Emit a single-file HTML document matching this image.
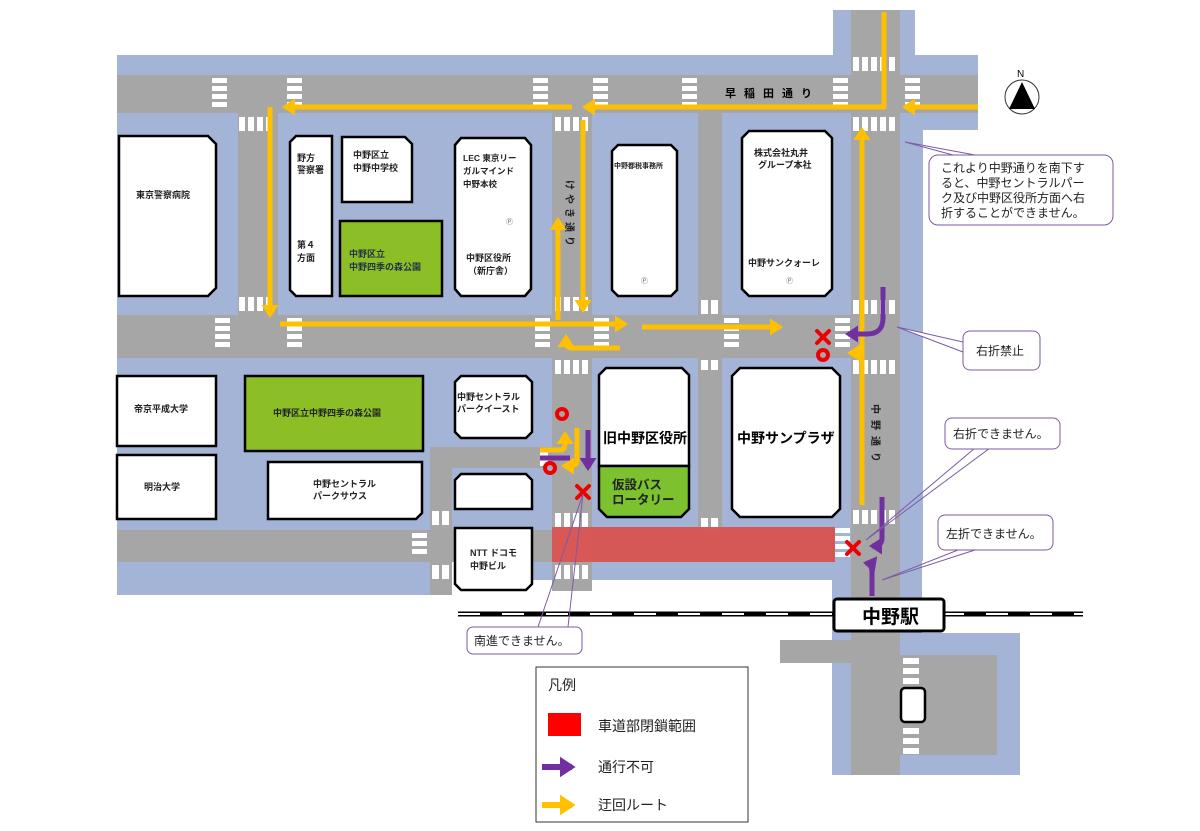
<!DOCTYPE html>
<html><head><meta charset="utf-8"><style>
html,body{margin:0;padding:0;background:#fff;}
svg{display:block;font-family:"Liberation Sans","Noto Sans CJK JP",sans-serif;}
</style></head><body>
<svg width="1200" height="831" viewBox="0 0 1200 831" xmlns="http://www.w3.org/2000/svg">
<defs>
<marker id="ay" markerWidth="4" markerHeight="4" refX="2" refY="2" orient="auto" markerUnits="strokeWidth"><path d="M0,0.3 L2.6,2 L0,3.7 Z" fill="#ffc000"/></marker>
<marker id="ap" markerWidth="4" markerHeight="4" refX="2" refY="2" orient="auto" markerUnits="strokeWidth"><path d="M0,0.3 L2.6,2 L0,3.7 Z" fill="#7030a0"/></marker>
</defs>
<!-- sidewalks (blue) -->
<g fill="#a4b4d6">
<rect x="117" y="55" width="861" height="75"/>
<rect x="833" y="10" width="82" height="60"/>
<rect x="117" y="113" width="806" height="448"/>
<rect x="117" y="530" width="313" height="65"/>
<rect x="455" y="540" width="397" height="40"/>
<rect x="832" y="560" width="90" height="80"/>
<rect x="832" y="633" width="188" height="142"/>
</g>
<!-- roads -->
<g fill="#a6a6a6">
<rect x="117" y="75" width="861" height="38"/>
<rect x="851" y="10" width="49" height="765"/>
<rect x="238" y="113" width="40" height="244"/>
<rect x="552" y="113" width="40" height="478"/>
<rect x="698" y="113" width="24" height="420"/>
<rect x="117" y="315" width="783" height="43"/>
<rect x="117" y="530" width="435" height="32"/>
<rect x="430" y="447" width="122" height="21"/>
<rect x="430" y="447" width="22" height="148"/>
<rect x="780" y="640" width="71" height="23"/>
<rect x="900" y="655" width="97" height="100"/>
</g>
<!-- crosswalks -->
<g fill="#fff">
<rect x="212" y="78" width="15" height="5"/><rect x="212" y="86" width="15" height="5"/><rect x="212" y="94" width="15" height="5"/><rect x="212" y="102" width="15" height="5"/>
<rect x="287" y="78" width="15" height="5"/><rect x="287" y="86" width="15" height="5"/><rect x="287" y="94" width="15" height="5"/><rect x="287" y="102" width="15" height="5"/>
<rect x="533" y="78" width="15" height="5"/><rect x="533" y="86" width="15" height="5"/><rect x="533" y="94" width="15" height="5"/><rect x="533" y="102" width="15" height="5"/>
<rect x="593" y="78" width="15" height="5"/><rect x="593" y="86" width="15" height="5"/><rect x="593" y="94" width="15" height="5"/><rect x="593" y="102" width="15" height="5"/>
<rect x="682" y="78" width="15" height="5"/><rect x="682" y="86" width="15" height="5"/><rect x="682" y="94" width="15" height="5"/><rect x="682" y="102" width="15" height="5"/>
<rect x="833" y="78" width="15" height="5"/><rect x="833" y="86" width="15" height="5"/><rect x="833" y="94" width="15" height="5"/><rect x="833" y="102" width="15" height="5"/>
<rect x="905" y="78" width="15" height="5"/><rect x="905" y="86" width="15" height="5"/><rect x="905" y="94" width="15" height="5"/><rect x="905" y="102" width="15" height="5"/>
<rect x="853" y="57" width="6" height="14"/><rect x="862" y="57" width="6" height="14"/><rect x="871" y="57" width="6" height="14"/><rect x="880" y="57" width="6" height="14"/><rect x="889" y="57" width="6" height="14"/>
<rect x="853" y="117" width="6" height="14"/><rect x="862" y="117" width="6" height="14"/><rect x="871" y="117" width="6" height="14"/><rect x="880" y="117" width="6" height="14"/><rect x="889" y="117" width="6" height="14"/>
<rect x="239" y="117" width="6" height="14"/><rect x="248" y="117" width="6" height="14"/><rect x="257" y="117" width="6" height="14"/><rect x="266" y="117" width="6" height="14"/>
<rect x="555" y="117" width="6" height="14"/><rect x="564" y="117" width="6" height="14"/><rect x="573" y="117" width="6" height="14"/><rect x="582" y="117" width="6" height="14"/>
<rect x="239" y="297" width="6" height="14"/><rect x="248" y="297" width="6" height="14"/><rect x="257" y="297" width="6" height="14"/><rect x="266" y="297" width="6" height="14"/>
<rect x="555" y="297" width="6" height="14"/><rect x="564" y="297" width="6" height="14"/><rect x="573" y="297" width="6" height="14"/><rect x="582" y="297" width="6" height="14"/>
<rect x="701" y="300" width="7" height="14"/><rect x="711" y="300" width="7" height="14"/>
<rect x="853" y="300" width="6" height="14"/><rect x="862" y="300" width="6" height="14"/><rect x="871" y="300" width="6" height="14"/><rect x="880" y="300" width="6" height="14"/><rect x="889" y="300" width="6" height="14"/>
<rect x="215" y="318" width="15" height="5"/><rect x="215" y="326" width="15" height="5"/><rect x="215" y="334" width="15" height="5"/><rect x="215" y="342" width="15" height="5"/>
<rect x="287" y="318" width="15" height="5"/><rect x="287" y="326" width="15" height="5"/><rect x="287" y="334" width="15" height="5"/><rect x="287" y="342" width="15" height="5"/>
<rect x="535" y="318" width="15" height="5"/><rect x="535" y="326" width="15" height="5"/><rect x="535" y="334" width="15" height="5"/><rect x="535" y="342" width="15" height="5"/>
<rect x="594" y="318" width="15" height="5"/><rect x="594" y="326" width="15" height="5"/><rect x="594" y="334" width="15" height="5"/><rect x="594" y="342" width="15" height="5"/>
<rect x="724" y="318" width="15" height="5"/><rect x="724" y="326" width="15" height="5"/><rect x="724" y="334" width="15" height="5"/><rect x="724" y="342" width="15" height="5"/>
<rect x="835" y="318" width="15" height="5"/><rect x="835" y="326" width="15" height="5"/><rect x="835" y="334" width="15" height="5"/><rect x="835" y="342" width="15" height="5"/>
<rect x="555" y="360" width="6" height="14"/><rect x="564" y="360" width="6" height="14"/><rect x="573" y="360" width="6" height="14"/><rect x="582" y="360" width="6" height="14"/>
<rect x="701" y="360" width="7" height="10"/><rect x="711" y="360" width="7" height="10"/>
<rect x="853" y="360" width="6" height="14"/><rect x="862" y="360" width="6" height="14"/><rect x="871" y="360" width="6" height="14"/><rect x="880" y="360" width="6" height="14"/><rect x="889" y="360" width="6" height="14"/>
<rect x="555" y="513" width="6" height="14"/><rect x="564" y="513" width="6" height="14"/><rect x="573" y="513" width="6" height="14"/><rect x="582" y="513" width="6" height="14"/>
<rect x="701" y="518" width="7" height="10"/><rect x="711" y="518" width="7" height="10"/>
<rect x="853" y="510" width="6" height="14"/><rect x="862" y="510" width="6" height="14"/><rect x="871" y="510" width="6" height="14"/><rect x="880" y="510" width="6" height="14"/><rect x="889" y="510" width="6" height="14"/>
<rect x="555" y="565" width="6" height="14"/><rect x="564" y="565" width="6" height="14"/><rect x="573" y="565" width="6" height="14"/><rect x="582" y="565" width="6" height="14"/>
<rect x="432" y="511" width="7" height="14"/><rect x="442" y="511" width="7" height="14"/>
<rect x="432" y="565" width="7" height="14"/><rect x="442" y="565" width="7" height="14"/>
<rect x="412" y="533" width="15" height="5"/><rect x="412" y="541" width="15" height="5"/><rect x="412" y="549" width="15" height="5"/>
<rect x="835" y="528" width="15" height="5"/><rect x="835" y="536" width="15" height="5"/><rect x="835" y="544" width="15" height="5"/><rect x="835" y="552" width="15" height="5"/>
<rect x="903" y="658" width="16" height="6"/><rect x="903" y="668" width="16" height="6"/><rect x="903" y="678" width="16" height="6"/>
<rect x="903" y="728" width="16" height="6"/><rect x="903" y="738" width="16" height="6"/><rect x="903" y="748" width="16" height="6"/>
<rect x="540" y="449" width="8" height="17"/>
</g>
<!-- closed zone -->
<rect x="552" y="527" width="283" height="35" fill="#d9534f" opacity="0.95"/>
<!-- buildings -->
<g stroke="#000" stroke-width="2.5" fill="#fff">
<path d="M119,136 H208 L216,144 V288 L208,296 H119 Z"/>
<path d="M296,136 H332 V296 H296 L290,290 V142 Z"/>
<path d="M342,137 H405 L412,144 V202 H342 Z"/>
<path d="M340,221 H442 V296 H340 Z" fill="#8cbf26"/>
<path d="M461,138 H525 L531,145 V289 L525,296 H461 L455,289 V145 Z"/>
<path d="M618,145 H671 L677,151 V290 L671,296 H618 L612,290 V151 Z"/>
<path d="M749,131 H825 L832,138 V289 L825,296 H749 L742,289 V138 Z"/>
<path d="M117,376 H216 V446 H117 Z"/>
<path d="M245,376 H423 V451 H245 Z" fill="#8cbf26"/>
<path d="M461,376 H526 L532,382 V432 L526,438 H461 L455,432 V382 Z"/>
<path d="M117,455 H216 V519 H117 Z"/>
<path d="M268,462 H422 V513 L416,519 H268 Z"/>
<path d="M461,474 H526 L532,480 V509 H455 V480 Z"/>
<path d="M455,528 H532 V584 L526,590 H461 L455,584 Z"/>
<path d="M606,368 H682 L689,375 V466 H599 V375 Z"/>
<path d="M599,466 H689 V509 L681,517 H607 L599,509 Z" fill="#7cc22e"/>
<path d="M740,368 H832 L840,376 V509 L832,517 H740 L732,509 V376 Z"/>
<rect x="901" y="688" width="24" height="34" rx="4"/>
</g>
<!-- building labels -->
<g font-size="9" fill="#222" font-weight="bold">
<text x="136" y="198">東京警察病院</text>
<text x="297" y="161">野方</text><text x="297" y="173">警察署</text>
<text x="297" y="248">第４</text><text x="297" y="261">方面</text>
<text x="353" y="158">中野区立</text><text x="353" y="171">中野中学校</text>
<text x="349" y="257" fill="#234">中野区立</text><text x="349" y="270" fill="#234">中野四季の森公園</text>
<text x="463" y="161" font-size="8.5">LEC 東京リー</text><text x="463" y="174" font-size="8.5">ガルマインド</text><text x="463" y="187" font-size="8.5">中野本校</text>
<text x="466" y="261">中野区役所</text><text x="468" y="274">（新庁舎）</text>
<text x="614" y="168" font-size="7">中野都税事務所</text>
<text x="754" y="156">株式会社丸井</text><text x="758" y="168">グループ本社</text>
<text x="748" y="266">中野サンクォーレ</text>
<text x="134" y="412">帝京平成大学</text>
<text x="273" y="416">中野区立中野四季の森公園</text>
<text x="457" y="400">中野セントラル</text><text x="457" y="412">パークイースト</text>
<text x="144" y="490">明治大学</text>
<text x="313" y="487">中野セントラル</text><text x="313" y="499">パークサウス</text>
<text x="470" y="556">NTT ドコモ</text><text x="470" y="569">中野ビル</text>
</g>
<g font-size="7" fill="#666"><text x="506" y="224">Ⓟ</text><text x="641" y="283">Ⓟ</text><text x="786" y="283">Ⓟ</text></g>
<text x="603" y="443" font-size="14" font-weight="bold">旧中野区役所</text>
<text x="612" y="489" font-size="12.5" font-weight="bold" fill="#222">仮設バス</text>
<text x="612" y="504" font-size="12.5" font-weight="bold" fill="#222">ロータリー</text>
<text x="737" y="443" font-size="14" font-weight="bold">中野サンプラザ</text>
<!-- road labels -->
<text x="725" y="97" font-size="11" font-weight="bold" letter-spacing="8">早稲田通り</text>
<g font-size="10" font-weight="bold" fill="#222" transform="rotate(90 570 210)"><text x="540" y="214" letter-spacing="4">けやき通り</text></g>
<g font-size="10" font-weight="bold" fill="#222" transform="rotate(90 876 430)"><text x="850" y="434" letter-spacing="6">中野通り</text></g>
<!-- yellow routes -->
<g fill="none" stroke="#ffc000" stroke-width="5" stroke-linejoin="round">
<path d="M978,107 H905" marker-end="url(#ay)"/>
<path d="M884,12 V107 H585" marker-end="url(#ay)"/>
<path d="M572,107 H285" marker-end="url(#ay)"/>
<path d="M270,107 V315" marker-end="url(#ay)"/>
<path d="M280,324 H625" marker-end="url(#ay)"/>
<path d="M642,327 H780" marker-end="url(#ay)"/>
<path d="M583,120 V310" marker-end="url(#ay)"/>
<path d="M558,320 V220" marker-end="url(#ay)"/>
<path d="M620,348 H572 Q566,348 566,342 V337" marker-end="url(#ay)"/>
<path d="M862,505 V130" marker-end="url(#ay)"/>
<path d="M860,353 H850" marker-end="url(#ay)"/>
<path d="M540,450 H560 Q565,450 565,444 V434" marker-end="url(#ay)"/>
<path d="M577,428 V460 Q577,466 571,466 H564" marker-end="url(#ay)"/>
</g>
<!-- purple -->
<g fill="none" stroke="#7030a0" stroke-width="5" stroke-linejoin="round">
<path d="M883,287 V318 Q883,334 867,334 H848" marker-end="url(#ap)"/>
<path d="M882,497 V538 Q882,546 874,546 H872" marker-end="url(#ap)"/>
<path d="M872,596 V572 Q872,564 866,563" marker-end="url(#ap)"/>
<path d="M588,430 V468" marker-end="url(#ap)"/>
<path d="M540,458 H570"/>
</g>
<!-- marks -->
<g stroke="#e00" stroke-width="4" stroke-linecap="round" fill="none">
<path d="M817,331 L829,343 M829,331 L817,343"/>
<path d="M847,542 L859,554 M859,542 L847,554"/>
<path d="M577,486 L589,498 M589,486 L577,498"/>
<circle cx="823" cy="355" r="5"/>
<circle cx="562" cy="414" r="5"/>
<circle cx="550" cy="468" r="5"/>
</g>
<!-- railway -->
<line x1="458" y1="614" x2="1083" y2="614" stroke="#000" stroke-width="5"/>
<line x1="458" y1="614" x2="1083" y2="614" stroke="#fff" stroke-width="2" stroke-dasharray="22 22"/>
<rect x="834" y="599" width="110" height="32" rx="3" fill="#fff" stroke="#000" stroke-width="3"/>
<text x="862" y="623" font-size="19" font-weight="bold">中野駅</text>
<!-- north -->
<circle cx="1022" cy="97" r="17" fill="#fff" stroke="#333" stroke-width="1"/>
<path d="M1022,82 L1009,109 H1035 Z" fill="#000"/>
<text x="1017" y="77" font-size="10">N</text>
<!-- callouts -->
<g fill="#fff" stroke="#7b5aa6" stroke-width="1">
<path d="M905,142 L953,155 L975,155 Z"/>
<rect x="929" y="155" width="184" height="70" rx="9"/>
<path d="M897,327 L963,342 L963,352 Z"/>
<rect x="963" y="331" width="77" height="39" rx="7"/>
<path d="M866,540 L975,448 L990,448 Z" fill="none"/>
<rect x="945" y="418" width="115" height="31" rx="7"/>
<path d="M882,580 L958,550 L975,550 Z" fill="none"/>
<rect x="938" y="515" width="115" height="35" rx="7"/>
<path d="M583,494 L538,627 M583,494 L568,627" fill="none"/>
<rect x="467" y="627" width="115" height="27" rx="6"/>
</g>
<g font-size="12" fill="#222">
<text x="941" y="172">これより中野通りを南下す</text>
<text x="941" y="187">ると、中野セントラルパー</text>
<text x="941" y="202">ク及び中野区役所方面へ右</text>
<text x="941" y="217">折することができません。</text>
<text x="976" y="355">右折禁止</text>
<text x="953" y="438">右折できません。</text>
<text x="946" y="538">左折できません。</text>
<text x="474" y="645">南進できません。</text>
</g>
<!-- legend -->
<rect x="536" y="667" width="212" height="155" fill="#fff" stroke="#333" stroke-width="1"/>
<g font-size="14" fill="#222">
<text x="548" y="690">凡例</text>
<rect x="548" y="713" width="33" height="23" fill="#f00"/>
<text x="598" y="731">車道部閉鎖範囲</text>
<text x="598" y="772">通行不可</text>
<text x="598" y="810">迂回ルート</text>
</g>
<path d="M542,767 H572" stroke="#7030a0" stroke-width="6" marker-end="url(#ap)"/>
<path d="M542,805 H572" stroke="#ffc000" stroke-width="6" marker-end="url(#ay)"/>
</svg>
</body></html>
